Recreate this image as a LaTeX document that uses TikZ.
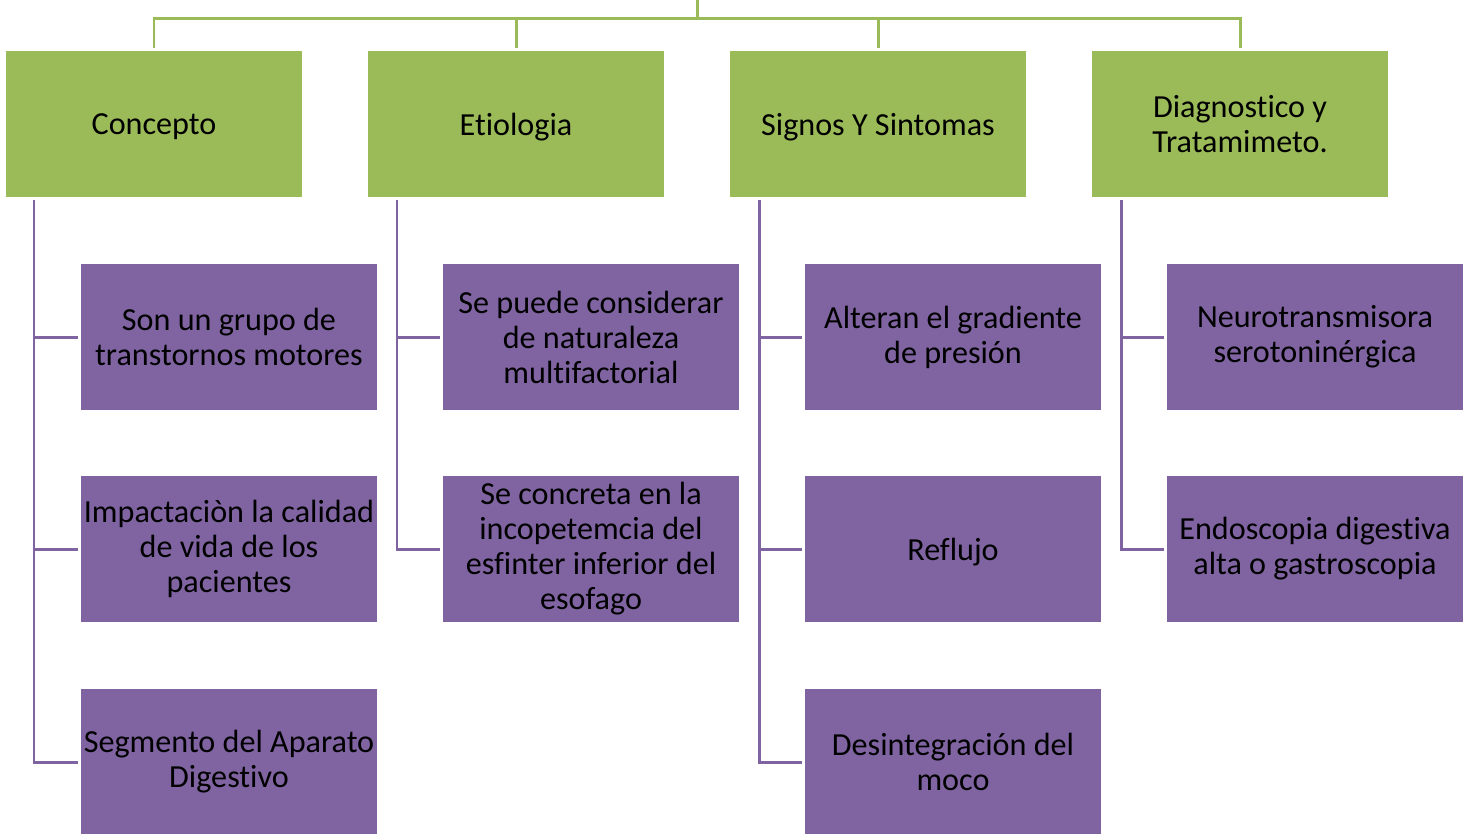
\documentclass[tikz,border=0pt]{standalone}
\usepackage{fontspec}
\setmainfont{Carlito}[Ligatures=NoCommon]
\definecolor{oliva}{HTML}{9BBB59}
\definecolor{lila}{HTML}{8064A2}

\begin{document}
\begin{tikzpicture}[
		x=0.02cm, y=-0.02cm,
		every node/.style={rectangle, minimum width=5.92cm, minimum height=2.92cm, inner sep=0pt, align=center, font=\fontsize{18.3pt}{19.9pt}\selectfont},
		tema/.style={fill=oliva},
		punto/.style={fill=lila},
		una/.style={text depth=0pt},
		rama/.style={draw=oliva, line width=1.7pt},
		hoja/.style={draw=lila, line width=1.7pt, shorten >=0.06cm}
	]
  \useasboundingbox (0,0) rectangle (1473,833);
  \clip (0,0) rectangle (1473,833);
  % titulos
  \node (concepto) [tema, una] at (154,124) {Concepto};
  \node (etiologia) [tema, una] at (516,124) {Etiologia};
  \node (signos) [tema, una] at (878,124) {Signos Y Sintomas};
  \node (diagnostico) [tema] at (1240,124) {Diagnostico y\\Tratamimeto.};
  % puntos
  \node (c_1) [punto] at (229,337) {Son un grupo de\\transtornos motores};
  \node (c_2) [punto] at (229,549) {Impactaciòn la calidad\\de vida de los\\pacientes};
  \node (c_3) [punto] at (229,762) {Segmento del Aparato\\Digestivo};
  \node (e_1) [punto] at (591,337) {Se puede considerar\\de naturaleza\\multifactorial};
  \node (e_2) [punto] at (591,549) {Se concreta en la\\incopetemcia del\\esfinter inferior del\\esofago};
  \node (s_1) [punto] at (953,337) {Alteran el gradiente\\de presión};
  \node (s_2) [punto, una] at (953,549) {Reflujo};
  \node (s_3) [punto] at (953,762) {Desintegración del\\moco};
  \node (d_1) [punto] at (1315,337) {Neurotransmisora\\serotoninérgica};
  \node (d_2) [punto] at (1315,549) {Endoscopia digestiva\\alta o gastroscopia};
  % arbol
  \coordinate (raiz) at (697,0);
  \coordinate (barra) at (697,18);
  \coordinate (c_top) at (34,200);
  \coordinate (e_top) at (397,200);
  \coordinate (s_top) at (759,200);
  \coordinate (d_top) at (1121,200);
  \draw [rama] (raiz) -- (barra);
  \foreach \t in {concepto, etiologia, signos, diagnostico}
    \draw [rama, shorten >=0.06cm] (barra) -| (\t.north);
  \foreach \h in {c_1, c_2, c_3} \draw [hoja] (c_top) |- (\h.west);
  \foreach \h in {e_1, e_2} \draw [hoja] (e_top) |- (\h.west);
  \foreach \h in {s_1, s_2, s_3} \draw [hoja] (s_top) |- (\h.west);
  \foreach \h in {d_1, d_2} \draw [hoja] (d_top) |- (\h.west);
\end{tikzpicture}
\end{document}
